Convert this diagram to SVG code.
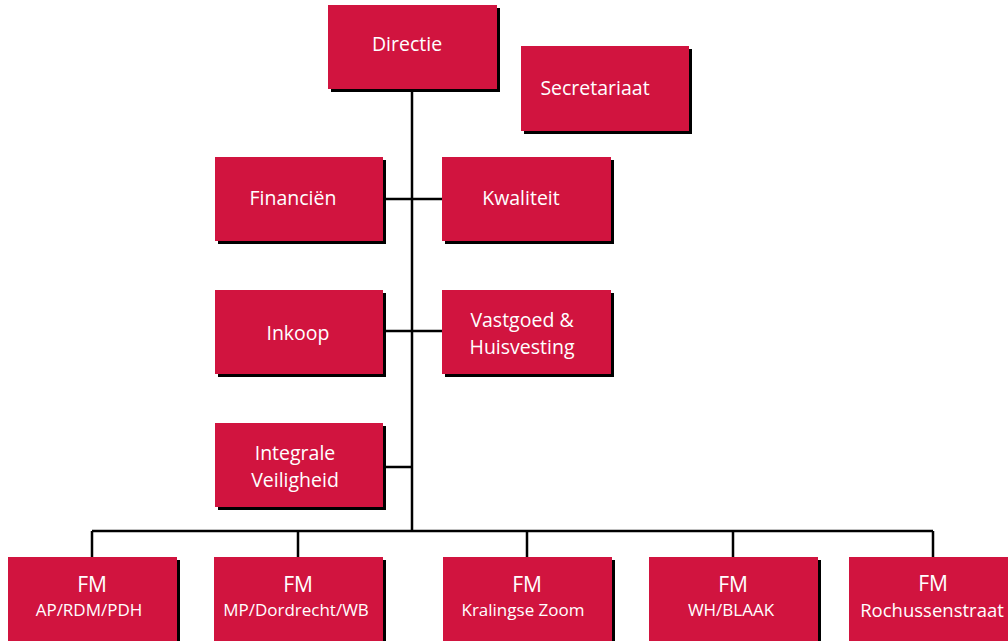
<svg xmlns="http://www.w3.org/2000/svg" width="1008" height="641" viewBox="0 0 1008 641">
<style>
.box{fill:#D1143F}
.sh{fill:#000}
.t{font-family:"Open Sans","Noto Sans",sans-serif;font-size:19.5px;fill:#fff;text-anchor:middle}
.s{font-size:17px}
.fm{font-size:21px}
.r{font-size:18.5px}
.ln{stroke:#000;stroke-width:2.5;fill:none}
</style>
<rect width="1008" height="641" fill="#fff"/>
<g id="connectors">
<path class="ln" d="M412 89V531M383 199H442M383 331H442M383 467H412M92 531H933M92 531V557M298 531V557M527 531V557M733 531V557M933 531V557"/>
</g>
<g id="directie"><rect class="sh" x="331" y="8" width="169" height="84"/><rect class="box" x="328" y="5" width="169" height="84"/><text class="t" x="407" y="51">Directie</text></g>
<g id="secretariaat"><rect class="sh" x="524" y="49" width="168" height="85"/><rect class="box" x="521" y="46" width="168" height="85"/><text class="t" x="595" y="95">Secretariaat</text></g>
<g id="financien"><rect class="sh" x="218" y="160" width="168" height="84"/><rect class="box" x="215" y="157" width="168" height="84"/><text class="t" x="293" y="205">Financiën</text></g>
<g id="kwaliteit"><rect class="sh" x="445" y="160" width="169" height="84"/><rect class="box" x="442" y="157" width="169" height="84"/><text class="t" x="521" y="205">Kwaliteit</text></g>
<g id="inkoop"><rect class="sh" x="218" y="293" width="168" height="84"/><rect class="box" x="215" y="290" width="168" height="84"/><text class="t" x="298" y="340">Inkoop</text></g>
<g id="vastgoed"><rect class="sh" x="445" y="293" width="169" height="84"/><rect class="box" x="442" y="290" width="169" height="84"/><text class="t" x="522" y="327">Vastgoed &amp;</text><text class="t" x="522" y="354">Huisvesting</text></g>
<g id="integrale"><rect class="sh" x="218" y="426" width="168" height="84"/><rect class="box" x="215" y="423" width="168" height="84"/><text class="t" x="295" y="460">Integrale</text><text class="t" x="295" y="487">Veiligheid</text></g>
<g id="fm-ap"><rect class="sh" x="11" y="560" width="169" height="84"/><rect class="box" x="8" y="557" width="169" height="84"/><text class="t fm" x="92" y="592">FM</text><text class="t s" x="89" y="616">AP/RDM/PDH</text></g>
<g id="fm-mp"><rect class="sh" x="217" y="560" width="169" height="84"/><rect class="box" x="214" y="557" width="169" height="84"/><text class="t fm" x="298" y="592">FM</text><text class="t s" x="296" y="616">MP/Dordrecht/WB</text></g>
<g id="fm-kz"><rect class="sh" x="446" y="560" width="169" height="84"/><rect class="box" x="443" y="557" width="169" height="84"/><text class="t fm" x="527" y="592">FM</text><text class="t s" x="523" y="616">Kralingse Zoom</text></g>
<g id="fm-wh"><rect class="sh" x="652" y="560" width="169" height="84"/><rect class="box" x="649" y="557" width="169" height="84"/><text class="t fm" x="733" y="592">FM</text><text class="t s" x="731" y="616">WH/BLAAK</text></g>
<g id="fm-ro"><rect class="sh" x="852" y="560" width="169" height="84"/><rect class="box" x="849" y="557" width="169" height="84"/><text class="t fm" x="933" y="591">FM</text><text class="t r" x="932" y="617">Rochussenstraat</text></g>
</svg>
